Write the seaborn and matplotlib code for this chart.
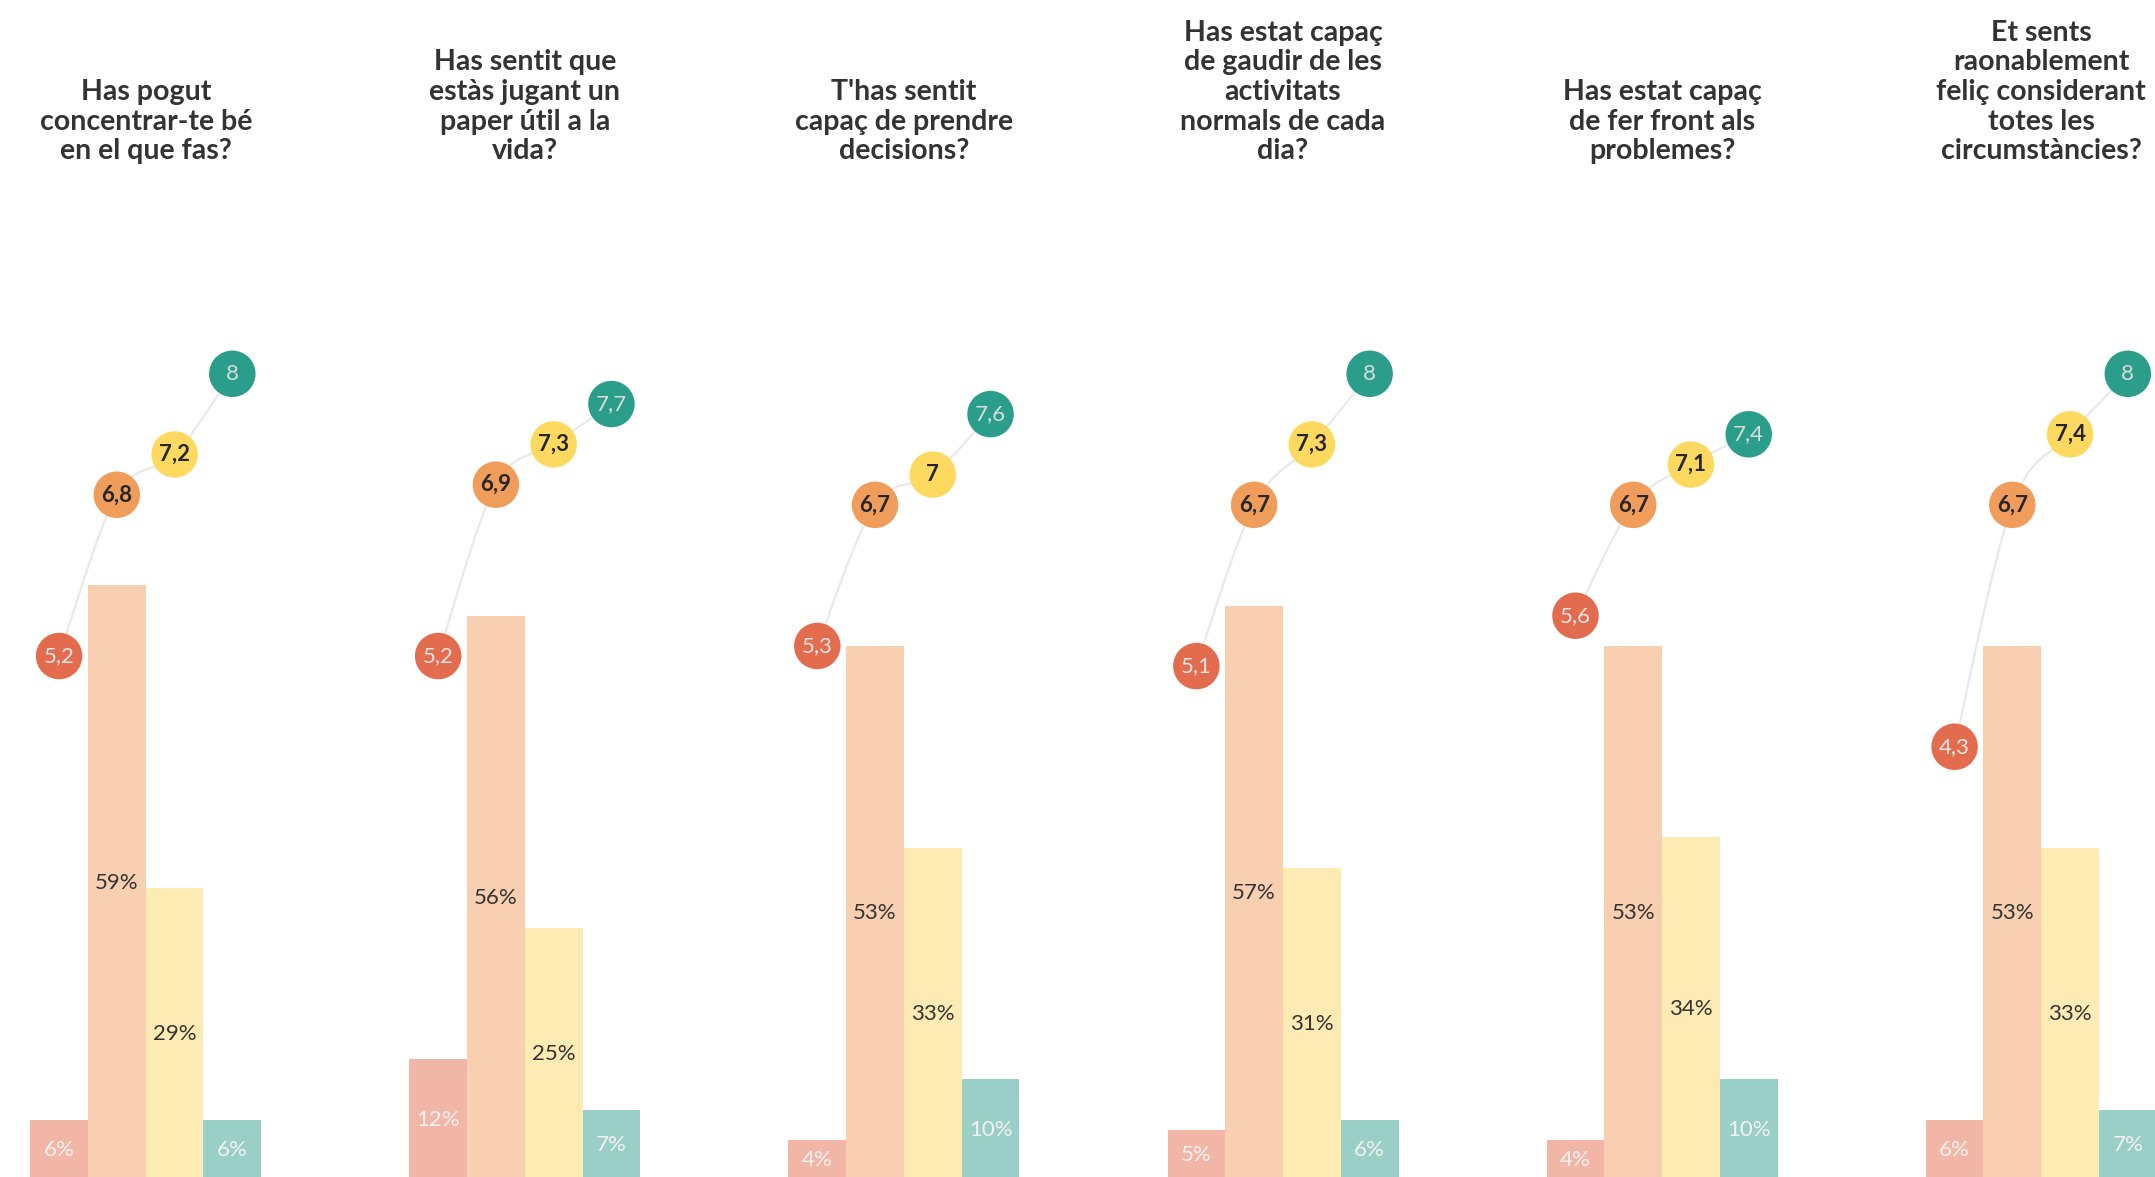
import numpy as np
import pandas as pd
import seaborn as sns
import matplotlib.pyplot as plt
from matplotlib.path import Path
from matplotlib.patches import PathPatch

# --- data ---
questions = [
    "Has pogut\nconcentrar-te bé\nen el que fas?",
    "Has sentit que\nestàs jugant un\npaper útil a la\nvida?",
    "T'has sentit\ncapaç de prendre\ndecisions?",
    "Has estat capaç\nde gaudir de les\nactivitats\nnormals de cada\ndia?",
    "Has estat capaç\nde fer front als\nproblemes?",
    "Et sents\nraonablement\nfeliç considerant\ntotes les\ncircumstàncies?",
]
groups = ["g1", "g2", "g3", "g4"]
scores = [
    [5.2, 6.8, 7.2, 8.0],
    [5.2, 6.9, 7.3, 7.7],
    [5.3, 6.7, 7.0, 7.6],
    [5.1, 6.7, 7.3, 8.0],
    [5.6, 6.7, 7.1, 7.4],
    [4.3, 6.7, 7.4, 8.0],
]
shares = [
    [6, 59, 29, 6],
    [12, 56, 25, 7],
    [4, 53, 33, 10],
    [5, 57, 31, 6],
    [4, 53, 34, 10],
    [6, 53, 33, 7],
]

circle_colors = ["#E36B4E", "#F09C5B", "#FDDA5F", "#2A9D8B"]
bar_colors = ["#F2B6A7", "#F8CFB1", "#FEEBB3", "#9ACFC7"]
circle_text = ["#e6e6e6", "#262626", "#262626", "#dcdcdc"]
bar_text = ["#f2f2f2", "#333333", "#333333", "#f2f2f2"]
circle_weight = ["normal", "bold", "bold", "normal"]

W, H = 2155, 1177
px_per_unit = 10.08
baseline_px = 1180.2
y_lo = (baseline_px - H) / px_per_unit
y_hi = y_lo + H / px_per_unit

sns.set_style("white")
plt.rcParams["font.family"] = ["Lato", "DejaVu Sans"]

fig = plt.figure(figsize=(W / 100, H / 100), dpi=100)


def smooth_path(xs, ys):
    pts = np.column_stack([xs, ys])
    ext = np.vstack([pts[0], pts, pts[-1]])
    verts = [pts[0]]
    codes = [Path.MOVETO]
    for i in range(1, len(ext) - 2):
        p0, p1, p2, p3 = ext[i - 1], ext[i], ext[i + 1], ext[i + 2]
        verts += [p1 + (p2 - p0) / 6, p2 - (p3 - p1) / 6, p2]
        codes += [Path.CURVE4] * 3
    return Path(verts, codes)


for i, q in enumerate(questions):
    left = 30.2 + i * 379.1
    ax = fig.add_axes([left / W, 0, 231 / W, 1])
    df = pd.DataFrame({"group": groups, "share": shares[i], "score": scores[i]})

    sns.barplot(data=df, x="group", y="share", hue="group", palette=bar_colors,
                width=1, saturation=1, legend=False, ax=ax, zorder=1,
                linewidth=0, edgecolor="none")

    for j, (s, c) in enumerate(zip(shares[i], bar_text)):
        ax.text(j, s / 2, f"{s}%", ha="center", va="center", fontsize=16,
                color=c, zorder=2)

    xs = np.arange(len(groups))
    ys = df["score"].to_numpy() * 10
    ax.add_patch(PathPatch(smooth_path(xs, ys), facecolor="none",
                           edgecolor="#e9e9e9", lw=1.6, zorder=2, clip_on=False))

    sns.scatterplot(x=xs, y=ys, hue=groups, palette=circle_colors, s=1120,
                    linewidth=0, legend=False, ax=ax, zorder=3, clip_on=False)

    for j, v in enumerate(scores[i]):
        label = f"{v:g}".replace(".", ",")
        ax.text(j, v * 10, label, ha="center", va="center", fontsize=16,
                color=circle_text[j], fontweight=circle_weight[j], zorder=4)

    ax.text(1.5, 100.8, q, ha="center", va="bottom", fontsize=20.5,
            fontweight="bold", color="#333333", linespacing=1.17)

    ax.set_xlim(-0.5, 3.5)
    ax.set_ylim(y_lo, y_hi)
    ax.axis("off")

fig.savefig("out.png", dpi=100)
